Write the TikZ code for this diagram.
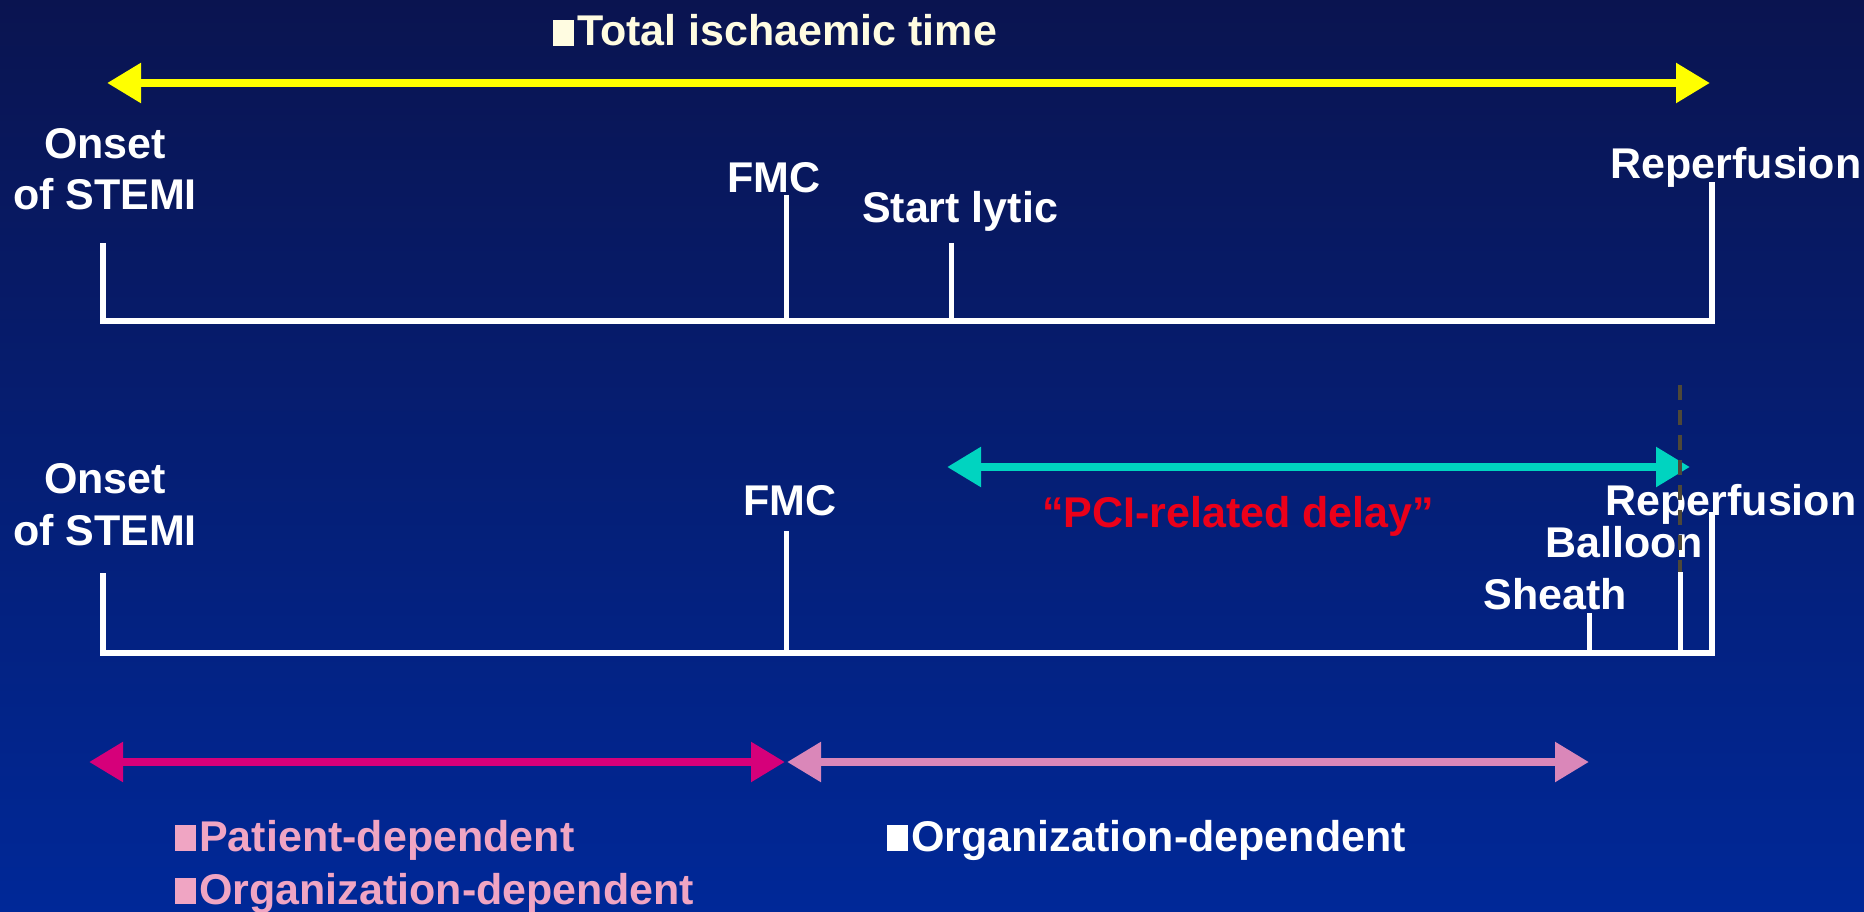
\documentclass[tikz,border=0pt]{standalone}
\usepackage{fontspec}
\setmainfont{Liberation Sans}
\usetikzlibrary{arrows.meta}
\definecolor{bgtop}{RGB}{10,20,80}
\definecolor{bgbot}{RGB}{0,40,152}
\definecolor{ylw}{RGB}{255,255,0}
\definecolor{teal2}{RGB}{0,212,192}
\definecolor{magen}{RGB}{214,0,122}
\definecolor{pinkarr}{RGB}{218,135,185}
\definecolor{pinktxt}{RGB}{240,165,195}
\definecolor{cream}{RGB}{255,252,225}
\definecolor{pcired}{RGB}{235,0,25}
\definecolor{dashc}{RGB}{78,72,56}
\newcommand\sqb{\rule{0.48em}{0.6em}\kern0.08em}
\begin{document}
\begin{tikzpicture}[x=1pt,y=-1pt,
  lbl/.style={font=\fontsize{43}{51}\selectfont\bfseries, text=white, inner sep=0pt, anchor=base},
  tickline/.style={draw=white, line width=5pt},
  axisline/.style={draw=white, line width=5.5pt, line join=miter},
  bigarrow/.style={line width=8.5pt, {Triangle[length=34pt 0 0,width=38pt 0 0]}-{Triangle[length=34pt 0 0,width=38pt 0 0]}}
]
\shade[top color=bgtop, bottom color=bgbot] (0,0) rectangle (1864,912);
\useasboundingbox (0,0) rectangle (1864,912);

% ---------- top timeline ----------
\node[lbl, anchor=base west, text=cream] (title) at (553,46) {\sqb Total ischaemic time};
\coordinate (yL) at (107,83);
\coordinate (yR) at (1710,83);
\draw[bigarrow, ylw] (yL) -- (yR);

\node[lbl] (onA1) at (105,159) {Onset};
\node[lbl] (onA2) at (105,210) {of STEMI};
\node[lbl] (fmcA) at (774,193) {FMC};
\node[lbl] (lytic) at (960,223) {Start lytic};
\node[lbl] (repA) at (1736,179) {Reperfusion};

\coordinate (aOnT) at (103,243);
\coordinate (aOnB) at (103,321);
\coordinate (aRepT) at (1712,182);
\coordinate (aRepB) at (1712,321);
\coordinate (aFmcT) at (786,195);
\coordinate (aFmcB) at (786,321);
\coordinate (aLytT) at (951,243);
\coordinate (aLytB) at (951,321);
\draw[axisline] (aOnT) -- (aOnB) -- (aRepB) -- (aRepT);
\draw[tickline] (aFmcT) -- (aFmcB);
\draw[tickline] (aLytT) -- (aLytB);

% ---------- bottom timeline ----------
\node[lbl] (onB1) at (105,493) {Onset};
\node[lbl] (onB2) at (105,545) {of STEMI};
\node[lbl] (fmcB) at (790,515) {FMC};
\node[lbl, text=pcired] (pci) at (1238,527) {“PCI-related delay”};
\node[lbl] (repB) at (1731,515) {Reperfusion};
\node[lbl] (balloon) at (1624,557) {Balloon};
\node[lbl] (sheath) at (1555,609) {Sheath};

\coordinate (tL) at (947,467);
\coordinate (tR) at (1690,467);
\draw[bigarrow, teal2] (tL) -- (tR);

\coordinate (bOnT) at (103,573);
\coordinate (bOnB) at (103,653);
\coordinate (bRepT) at (1712,512);
\coordinate (bRepB) at (1712,653);
\coordinate (bFmcT) at (786,531);
\coordinate (bFmcB) at (786,653);
\coordinate (bShT) at (1589,613);
\coordinate (bShB) at (1589,653);
\coordinate (bBaD) at (1680,385);
\coordinate (bBaT) at (1680,572);
\coordinate (bBaB) at (1680,653);
\draw[axisline] (bOnT) -- (bOnB) -- (bRepB) -- (bRepT);
\draw[tickline] (bFmcT) -- (bFmcB);
\draw[tickline] (bShT) -- (bShB);
\draw[tickline] (bBaT) -- (bBaB);
\draw[dashc, line width=4pt, dash pattern=on 15pt off 10pt] (bBaD) -- (bBaT);

% ---------- bottom arrows ----------
\coordinate (mL) at (89,762);
\coordinate (mR) at (785,762);
\coordinate (pL) at (787,762);
\coordinate (pR) at (1589,762);
\draw[bigarrow, magen] (mL) -- (mR);
\draw[bigarrow, pinkarr] (pL) -- (pR);

\node[lbl, anchor=base west, text=pinktxt] (patdep) at (175,851) {\sqb Patient-dependent};
\node[lbl, anchor=base west, text=pinktxt] (orgdep1) at (175,904) {\sqb Organization-dependent};
\node[lbl, anchor=base west] (orgdep2) at (887,851) {\sqb Organization-dependent};
\end{tikzpicture}
\end{document}
